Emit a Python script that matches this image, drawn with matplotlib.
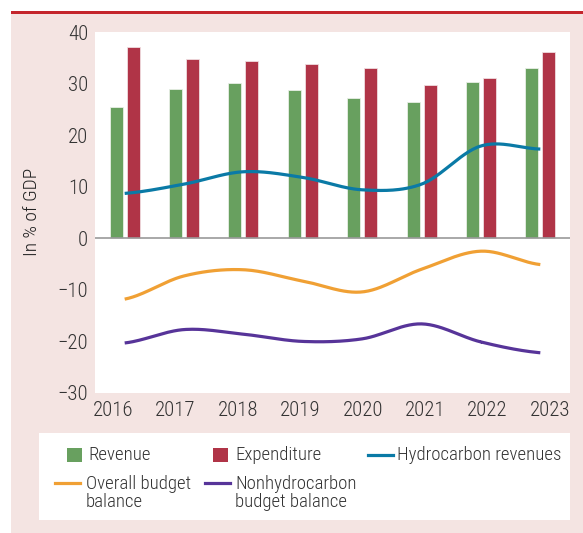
import numpy as np
import matplotlib
matplotlib.use("Agg")
import matplotlib.pyplot as plt
from matplotlib.patches import Rectangle
from matplotlib.lines import Line2D
from matplotlib import font_manager as fm

# pick a condensed sans if one is installed
names = {f.name for f in fm.fontManager.ttflist}
cond = [f for f in fm.fontManager.ttflist
        if f.stretch in ("condensed", "semi-condensed", "extra-condensed") or
        (isinstance(f.stretch, int) and f.stretch < 500)]
FAM = None
STRETCH = "normal"
SCALE = 1.0
for nm in ["Liberation Sans Narrow", "Roboto Condensed", "Open Sans Condensed", "Noto Sans Condensed"]:
    if nm in names:
        FAM = nm
        break
if FAM is None:
    cands = [f.name for f in cond if f.name in ("DejaVu Sans", "Noto Sans", "Roboto", "Open Sans", "Inter")]
    if cands:
        FAM = cands[0]
        STRETCH = "condensed"
if FAM is None:
    FAM = "Liberation Sans"
    SCALE = 0.88

plt.rcParams['font.family'] = [FAM, 'DejaVu Sans']
plt.rcParams['font.stretch'] = STRETCH
plt.rcParams['font.weight'] = 'light'

years = ["2016", "2017", "2018", "2019", "2020", "2021", "2022", "2023"]
revenue = [25.4, 28.9, 30.2, 28.7, 27.2, 26.4, 30.4, 33.0]
expenditure = [37.1, 34.8, 34.3, 33.7, 33.1, 29.7, 31.1, 36.1]
hydrocarbon = [8.7, 10.5, 12.9, 11.8, 9.4, 10.5, 17.9, 17.3]
overall = [-11.8, -7.3, -6.1, -8.3, -10.4, -6.0, -2.5, -5.1]
nonhydro = [-20.3, -17.7, -18.6, -20.0, -19.5, -16.6, -20.1, -22.2]
yticks = [-30, -20, -10, 0, 10, 20, 30, 40]

C_GREEN = "#68a05f"
C_RED = "#b03447"
C_BLUE = "#0a7aa6"
C_ORANGE = "#f0a034"
C_PURPLE = "#573499"
C_PINK = "#f4e4e2"
C_TEXT = "#333333"

W, H = 583, 533
fig = plt.figure(figsize=(W / 100, H / 100), dpi=100)
fig.patch.set_facecolor("white")


def fx(px):
    return px / W


def fy(py):
    return 1 - py / H


# pink panel and red top rule
fig.patches.append(Rectangle((fx(11), fy(533)), fx(583) - fx(11), fy(14) - fy(533),
                             transform=fig.transFigure, facecolor=C_PINK, edgecolor="none", zorder=-5))
fig.patches.append(Rectangle((fx(11), fy(14)), fx(583) - fx(11), fy(11) - fy(14),
                             transform=fig.transFigure, facecolor="#c4252c", edgecolor="none", zorder=-5))

ax = fig.add_axes([fx(95), fy(393), fx(570) - fx(95), fy(32) - fy(393)])
ax.set_zorder(2)
ax.set_facecolor("white")
for s in ax.spines.values():
    s.set_visible(False)

x = np.arange(len(years))
bw = 0.22
off = 0.143
ax.bar(x - off, revenue, bw, color=C_GREEN, edgecolor="#e8efe6", linewidth=0.6, zorder=2)
ax.bar(x + off, expenditure, bw, color=C_RED, edgecolor="#f0dde0", linewidth=0.6, zorder=2)
ax.axhline(0, color="#9a9a9a", linewidth=1.2, zorder=3)


def catmull(xs, ys, n=30):
    xs = np.asarray(xs, float)
    ys = np.asarray(ys, float)
    px = np.concatenate([[2 * xs[0] - xs[1]], xs, [2 * xs[-1] - xs[-2]]])
    py = np.concatenate([[ys[0]], ys, [ys[-1]]])
    outx, outy = [], []
    t = np.linspace(0, 1, n)
    for i in range(1, len(px) - 2):
        p0, p1, p2, p3 = py[i - 1], py[i], py[i + 1], py[i + 2]
        yy = 0.5 * ((2 * p1) + (-p0 + p2) * t + (2 * p0 - 5 * p1 + 4 * p2 - p3) * t ** 2
                    + (-p0 + 3 * p1 - 3 * p2 + p3) * t ** 3)
        xx = px[i] + (px[i + 1] - px[i]) * t
        outx.extend(xx)
        outy.extend(yy)
    return np.array(outx), np.array(outy)


for series, col in [(hydrocarbon, C_BLUE), (overall, C_ORANGE), (nonhydro, C_PURPLE)]:
    sx, sy = catmull(x, series)
    ax.plot(sx, sy, color=col, linewidth=2.3, zorder=4, solid_capstyle="butt")

ax.set_xlim(-0.5, 7.5)
ax.set_ylim(-30, 40)
ax.set_yticks(yticks)
ax.set_yticklabels([("\u2212" + str(-v)) if v < 0 else str(v) for v in yticks])
ax.set_xticks(np.arange(len(years)) * 1.051 - 0.196)
ax.set_xticklabels(years)
ax.tick_params(axis="both", length=0, labelsize=15 * SCALE, colors=C_TEXT)
ax.tick_params(axis="y", pad=5)
ax.tick_params(axis="x", pad=6)

fig.text(fx(32), fy(212), "In % of GDP", rotation=90, ha="center", va="center",
         fontsize=14 * SCALE, color="#222222")

# legend panel
fig.patches.append(Rectangle((fx(39), fy(520)), fx(570) - fx(39), fy(433) - fy(520),
                             transform=fig.transFigure, facecolor="white", edgecolor="none", zorder=1))

lfs = 13.5 * SCALE
# row 1
fig.patches.append(Rectangle((fx(67), fy(462)), fx(15), fy(0) - fy(14), transform=fig.transFigure,
                             facecolor=C_GREEN, edgecolor="none", zorder=2))
fig.text(fx(88), fy(455), "Revenue", ha="left", va="center", fontsize=lfs, color=C_TEXT)
fig.patches.append(Rectangle((fx(213), fy(462)), fx(15), fy(0) - fy(14), transform=fig.transFigure,
                             facecolor=C_RED, edgecolor="none", zorder=2))
fig.text(fx(235), fy(455), "Expenditure", ha="left", va="center", fontsize=lfs, color=C_TEXT)
fig.lines.append(Line2D([fx(368), fx(393)], [fy(455), fy(455)], transform=fig.transFigure,
                        color=C_BLUE, linewidth=2.3, zorder=2))
fig.text(fx(397), fy(455), "Hydrocarbon revenues", ha="left", va="center", fontsize=lfs, color=C_TEXT)
# row 2
fig.lines.append(Line2D([fx(55), fx(80)], [fy(483), fy(483)], transform=fig.transFigure,
                        color=C_ORANGE, linewidth=2.3, zorder=2))
fig.text(fx(86), fy(493), "Overall budget\nbalance", ha="left", va="center", fontsize=lfs,
         color=C_TEXT, linespacing=0.95)
fig.lines.append(Line2D([fx(205), fx(230)], [fy(483), fy(483)], transform=fig.transFigure,
                        color=C_PURPLE, linewidth=2.3, zorder=2))
fig.text(fx(235), fy(493), "Nonhydrocarbon\nbudget balance", ha="left", va="center", fontsize=lfs,
         color=C_TEXT, linespacing=0.95)

fig.savefig("out.png", dpi=100)
